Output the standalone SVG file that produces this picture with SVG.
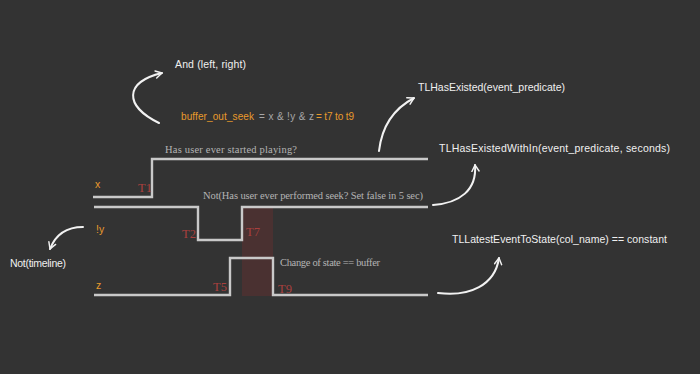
<svg xmlns="http://www.w3.org/2000/svg" width="700" height="374" viewBox="0 0 700 374">
<defs>
<marker id="ah" viewBox="0 0 10 10" refX="8" refY="5" markerWidth="9" markerHeight="9" markerUnits="userSpaceOnUse" orient="auto">
<path d="M1,1 L8,5 L1,9" fill="none" stroke="#f2f2f2" stroke-width="1.6" stroke-linecap="round" stroke-linejoin="round"/>
</marker>
<style>
.bg{fill:#333333}
.tl{fill:none;stroke:#c9c9c9;stroke-width:2.4}
.arr{fill:none;stroke:#f2f2f2;stroke-width:2;stroke-linecap:round;marker-end:url(#ah)}
.w{font-family:"Liberation Sans",Arial,sans-serif;font-size:10.5px;fill:#f0f0f0}
.o{font-family:"Liberation Sans",Arial,sans-serif;font-size:10.5px;fill:#e89a2c}
.g{font-family:"Liberation Sans",Arial,sans-serif;font-size:10.5px;fill:#a8a8a8}
.f{font-size:10px}
.s{font-family:"Liberation Serif","Times New Roman",serif;font-size:10.5px;fill:#b4b4b4}
.r{font-family:"Liberation Serif","Times New Roman",serif;font-size:12.5px;fill:#a8403e}
</style>
</defs>
<rect class="bg" x="0" y="0" width="700" height="374"/>
<rect id="shade" x="242" y="207" width="31" height="89" fill="#4a3131"/>
<g id="timeline-x">
<path class="tl" d="M93,197 H152 V159 H428"/>
<text class="o" x="95" y="188">x</text>
<text class="r" x="138" y="192">T1</text>
<text class="s" x="165" y="153" textLength="132">Has user ever started playing?</text>
</g>
<g id="timeline-y">
<path class="tl" d="M94,207 H198 V240 H242 V207 H428"/>
<text class="o" x="96" y="233">!y</text>
<text class="r" x="182" y="238">T2</text>
<text class="r" x="246" y="236">T7</text>
<text class="s" x="203" y="199" textLength="220">Not(Has user ever performed seek? Set false in 5 sec)</text>
</g>
<g id="timeline-z">
<path class="tl" d="M94,295 H230 V258 H273 V295 H428"/>
<text class="o" x="96" y="289">z</text>
<text class="r" x="213" y="291">T5</text>
<text class="r" x="278" y="293">T9</text>
<text class="s" x="280" y="266" textLength="100">Change of state == buffer</text>
</g>
<g id="label-and"><text class="w" x="175" y="68" textLength="71">And (left, right)</text></g>
<g id="label-formula">
<text x="181" y="120"><tspan class="o f" textLength="73">buffer_out_seek</tspan><tspan class="g f" x="259" textLength="55">= x &amp; !y &amp; z</tspan><tspan class="o f" x="316" textLength="38">= t7 to t9</tspan></text>
</g>
<g id="label-hasexisted"><text class="w" x="418" y="91" textLength="147">TLHasExisted(event_predicate)</text></g>
<g id="label-within"><text class="w" x="439" y="152" textLength="231">TLHasExistedWithIn(event_predicate, seconds)</text></g>
<g id="label-latest"><text class="w" x="452" y="243" textLength="215">TLLatestEventToState(col_name) == constant</text></g>
<g id="label-not"><text class="w" x="10" y="267" textLength="56">Not(timeline)</text></g>
<g id="connectors">
<path class="arr" d="M159,123 C124,106 124,82 162,73"/>
<path class="arr" d="M379,151 C382,125 395,108 414,98"/>
<path class="arr" d="M433,205 C460,203 477,190 475,165"/>
<path class="arr" d="M438,293 C470,297 495,285 499,258"/>
<path class="arr" d="M83,227 C65,227 55,236 50,249"/>
</g>
</svg>
